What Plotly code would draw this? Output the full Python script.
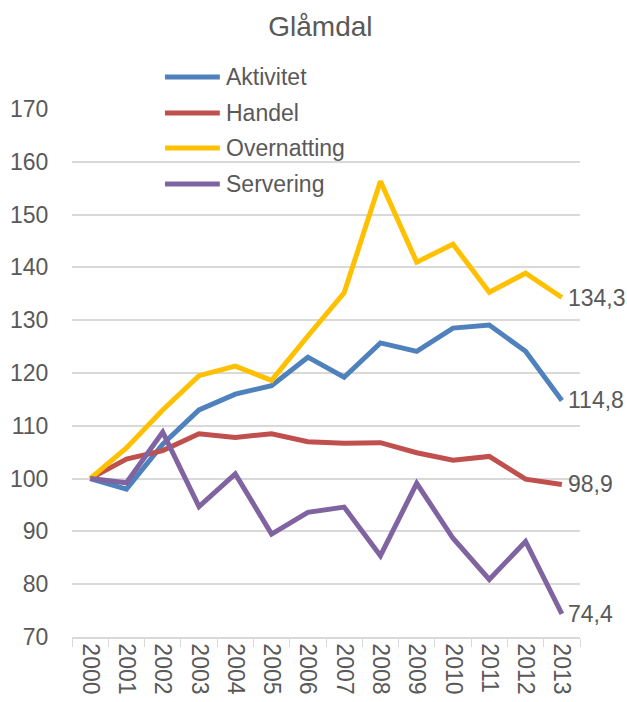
import plotly.graph_objects as go

years = [str(y) for y in range(2000, 2014)]

aktivitet = [100, 98.0, 106.5, 113.0, 116.0, 117.6, 123.0, 119.2, 125.7, 124.1, 128.5, 129.1, 124.1, 114.8]
handel = [100, 103.7, 105.3, 108.5, 107.8, 108.5, 107.0, 106.7, 106.8, 104.9, 103.5, 104.2, 99.9, 98.9]
overnatting = [100, 105.8, 113.0, 119.5, 121.3, 118.6, 127.0, 135.2, 156.3, 141.0, 144.4, 135.3, 138.9, 134.3]
servering = [100, 99.2, 108.8, 94.7, 100.9, 89.5, 93.6, 94.6, 85.4, 99.1, 88.7, 80.9, 88.1, 74.4]

series = [
    ("Aktivitet", aktivitet, "#4f81bd"),
    ("Handel", handel, "#c0504d"),
    ("Overnatting", overnatting, "#ffc000"),
    ("Servering", servering, "#8064a2"),
]

grey = "#595959"
font_family = "Liberation Sans, Arial, sans-serif"

fig = go.Figure()
for name, vals, color in series:
    fig.add_trace(go.Scatter(
        x=years, y=vals, name=name, mode="lines",
        line=dict(color=color, width=5),
        showlegend=False, cliponaxis=False,
    ))
    # end label, placed by category index
    fig.add_annotation(
        x=len(years) - 1, y=vals[-1], text=f"{vals[-1]:.1f}".replace(".", ","),
        xanchor="left", yanchor="middle", xshift=4, showarrow=False,
        font=dict(size=23, color=grey, family=font_family),
    )

# hand-drawn legend (longer line samples than plotly's own)
leg_y = [1.0606, 0.9924, 0.926, 0.858]
for (name, vals, color), ly in zip(series, leg_y):
    fig.add_shape(type="line", xref="paper", yref="paper",
                  x0=0.183, x1=0.291, y0=ly, y1=ly,
                  line=dict(color=color, width=5))
    fig.add_annotation(x=0.299, y=ly, xref="paper", yref="paper",
                       text=name, xanchor="left", yanchor="middle",
                       showarrow=False,
                       font=dict(size=23, color=grey, family=font_family))

fig.update_layout(
    width=627, height=702,
    margin=dict(l=72, r=47, t=109, b=65),
    paper_bgcolor="white", plot_bgcolor="white",
    font=dict(family=font_family, size=23, color=grey),
    title=dict(text="Glåmdal", x=0.511, xanchor="center", y=0.963, yanchor="middle",
               font=dict(size=28, color=grey, family=font_family)),
)
fig.update_xaxes(
    type="category", range=[-0.5, len(years) - 0.5], automargin=False,
    tickangle=90, showgrid=False,
    showline=True, linecolor="#d9d9d9", linewidth=1.5,
    ticks="outside", tickson="boundaries", ticklen=8, tickcolor="#d9d9d9",
    tickfont=dict(size=23, color=grey),
)
fig.update_yaxes(
    range=[70, 170], dtick=10, automargin=False,
    showgrid=True, gridcolor="#d9d9d9", gridwidth=1.5,
    zeroline=False, showline=False, ticks="outside", ticklen=18, tickcolor="white",
    tickfont=dict(size=23, color=grey),
)

# drop the default body margin so the figure fills the window exactly
fig.write_html(
    "out.html",
    config={"displayModeBar": False},
    post_script="document.body.style.margin='0';document.body.style.overflow='hidden';",
)
